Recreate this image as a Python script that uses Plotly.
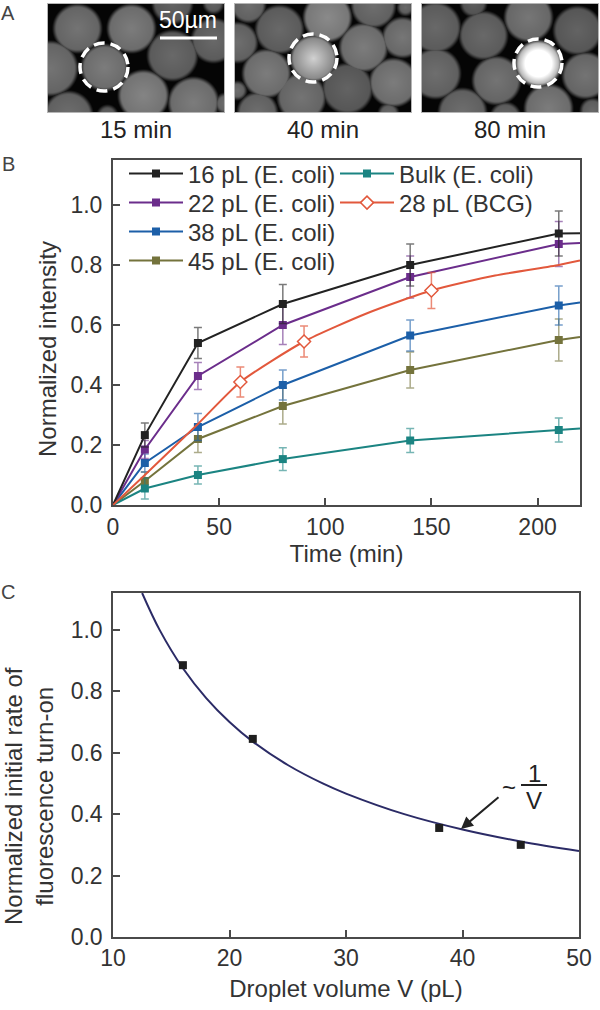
import numpy as np
import plotly.graph_objects as go

W, H = 600, 1010

# ---------- panel B data ----------
times = [0, 15, 40, 80, 140, 210, 220]
sample_times = [15, 40, 80, 140, 210]
names_b = ["16 pL (E. coli)", "22 pL (E. coli)", "38 pL (E. coli)", "45 pL (E. coli)", "Bulk (E. coli)"]
v16 = [0, 0.233, 0.54, 0.67, 0.80, 0.905, 0.906]
v22 = [0, 0.185, 0.43, 0.60, 0.76, 0.87, 0.873]
v38 = [0, 0.14, 0.26, 0.40, 0.565, 0.665, 0.675]
v45 = [0, 0.08, 0.22, 0.33, 0.45, 0.55, 0.56]
vbulk = [0, 0.055, 0.10, 0.153, 0.215, 0.25, 0.255]
e16 = [0.04, 0.052, 0.065, 0.07, 0.075]
e22 = [0.03, 0.045, 0.065, 0.07, 0.075]
e38 = [0.03, 0.045, 0.05, 0.052, 0.065]
e45 = [0.03, 0.045, 0.06, 0.06, 0.07]
ebulk = [0.035, 0.03, 0.038, 0.04, 0.04]
bcg_line_t = [0, 15, 40, 60, 90, 120, 150, 180, 210, 220]
bcg_line_v = [0, 0.10, 0.27, 0.41, 0.545, 0.64, 0.715, 0.765, 0.80, 0.815]
bcg_t = [60, 90, 150]
bcg_v = [0.41, 0.545, 0.715]
bcg_e = [0.05, 0.052, 0.06]
bcg_name = "28 pL (BCG)"
colors_b = ["#222222", "#6b2d8b", "#1c5fa8", "#74733c", "#1b8482"]
bcg_color = "#e2583c"

# ---------- panel C data ----------
vol_pts = [16, 22, 38, 45]
rate_pts = [0.885, 0.645, 0.355, 0.30]
vol_fit = [12.5, 14, 16, 18, 20, 22, 25, 28, 30, 35, 40, 45, 50]
rate_fit = [1.12, 1.0, 0.875, 0.778, 0.70, 0.636, 0.56, 0.50, 0.467, 0.40, 0.35, 0.311, 0.28]

# ---------- panel A data (droplet x, y, radius, brightness; image pixels) ----------
photo_titles = ["15 min", "40 min", "80 min"]
photo_boxes = [(48, 224), (235, 411), (422, 598)]
photo_y = (4, 112)
drops_15 = [(77, 28, 24, .42), (131, 28, 24, .45), (50, 68, 27, .42), (104, 67, 23, .45), (172, 55, 25, .38),
            (213, 40, 22, .38), (143, 95, 25, .48), (193, 102, 25, .45), (68, 115, 24, .40), (225, 103, 10, .40),
            (107, 115, 10, .36), (172, 3, 20, .36), (213, 3, 10, .36)]
drops_40 = [(279, 29, 24, .38), (327, 17, 24, .50), (373, 5, 22, .40), (363, 47, 24, .45), (402, 37, 20, .43),
            (237, 42, 20, .40), (266, 73, 24, .45), (313, 58, 23, .80), (301, 97, 24, .42), (347, 88, 25, .36),
            (393, 82, 24, .45), (257, 112, 20, .40), (237, 90, 9, .40), (248, 5, 17, .40), (388, 113, 10, .38),
            (405, 7, 8, .38)]
drops_80 = [(483, 35, 24, .38), (528, 17, 24, .43), (577, 30, 24, .36), (435, 27, 25, .38), (435, 73, 25, .40),
            (496, 80, 24, .42), (538, 63, 23, 1.2), (585, 75, 23, .42), (462, 112, 24, .40), (548, 108, 24, .45),
            (592, 110, 12, .38), (505, 117, 15, .38), (473, 3, 13, .34)]
photo_drops = [drops_15, drops_40, drops_80]
photo_marked = [(104, 67, 24), (313, 58, 24), (538, 63, 24)]


def px(a, b):
    return [a / W, b / W]


def py(top, bottom):
    return [1 - bottom / H, 1 - top / H]


def rgba(h, a):
    return f"rgba({int(h[1:3],16)},{int(h[3:5],16)},{int(h[5:7],16)},{a})"


FONT = "Liberation Sans"
TXT = "#333333"
FRAME = "#4a4a4a"
TITLE_FONT = dict(family=FONT, size=24, color=TXT)

fig = go.Figure()
axis_common = dict(showgrid=False, zeroline=False, showline=True, linecolor=FRAME, mirror=True,
                   ticks="inside", ticklen=7, tickwidth=1.5, tickcolor=FRAME, automargin=False,
                   tickfont=dict(family=FONT, size=23, color=TXT))

# Panel B
b_series = [(v16, e16), (v22, e22), (v38, e38), (v45, e45), (vbulk, ebulk)]
draw_order = [3, 2, 4, 1, 0]
legend_ids = ["legend", "legend2", "legend3", "legend4", "legend5", "legend6"]
for i in draw_order:
    vals, errs = b_series[i]
    fig.add_trace(go.Scatter(x=times, y=vals, mode="lines", xaxis="x", yaxis="y", showlegend=False,
                             line=dict(color=colors_b[i], width=2), hoverinfo="skip"))
    fig.add_trace(go.Scatter(x=sample_times, y=vals[1:6], mode="markers", name=names_b[i], xaxis="x", yaxis="y",
                             showlegend=False, marker=dict(symbol="square", size=8, color=colors_b[i]),
                             error_y=dict(type="data", array=errs, visible=True, color=rgba(colors_b[i], 0.6),
                                          thickness=1.5, width=4)))
fig.add_trace(go.Scatter(x=bcg_line_t, y=bcg_line_v, mode="lines", xaxis="x", yaxis="y", showlegend=False,
                         line=dict(color=bcg_color, width=2, shape="spline", smoothing=0.6), hoverinfo="skip"))
fig.add_trace(go.Scatter(x=bcg_t, y=bcg_v, name=bcg_name, mode="markers", xaxis="x", yaxis="y", showlegend=False,
                         marker=dict(symbol="diamond", size=10, color="white", line=dict(color=bcg_color, width=1.5)),
                         error_y=dict(type="data", array=bcg_e, visible=True, color=rgba(bcg_color, 0.7),
                                      thickness=1.5, width=4)))
# legend entries
for i, (name, color, sym) in enumerate(list(zip(names_b, colors_b, ["square"] * 5))
                                       + [(bcg_name, bcg_color, "diamond")]):
    mk = dict(symbol=sym, size=8, color=color)
    if sym == "diamond":
        mk = dict(symbol=sym, size=10, color="white", line=dict(color=color, width=1.5))
    fig.add_trace(go.Scatter(x=[None], y=[None], name=name, mode="lines+markers", xaxis="x", yaxis="y",
                             line=dict(color=color, width=2), marker=mk, legend=legend_ids[i]))

# Panel C
fig.add_trace(go.Scatter(x=vol_fit, y=rate_fit, mode="lines", xaxis="x2", yaxis="y2", showlegend=False,
                         line=dict(color="#2b2b66", width=2, shape="spline")))
fig.add_trace(go.Scatter(x=vol_pts, y=rate_pts, mode="markers", xaxis="x2", yaxis="y2", showlegend=False,
                         marker=dict(symbol="square", size=8, color="#1e1e1e")))

# Panel A photos: rendered through heatmaps on their own axes
layout_extra = {}
shapes = []
annotations = []
for k, ((x0, x1), drops, mark, title) in enumerate(zip(photo_boxes, photo_drops, photo_marked, photo_titles)):
    xs = np.arange(x0, x1 + 1)
    ys = np.arange(photo_y[0], photo_y[1] + 1)
    gx, gy = np.meshgrid(xs, ys)
    field = np.full(gx.shape, 0.02)
    for cx, cy, r, b in drops:
        d = np.hypot(gx - cx, gy - cy)
        edge = np.clip((r + 2.5 - d) / 6, 0, 1)
        edge = edge * edge * (3 - 2 * edge)
        inner = np.clip(1 - d / r, 0, 1)
        if b > 1:
            val = edge * (0.60 + 0.95 * inner)
        elif b > 0.7:
            val = edge * (0.50 + 0.32 * inner)
        else:
            val = edge * b * (0.92 + 0.16 * inner)
        field = np.maximum(field, np.minimum(val, 1))
    n = k + 3
    fig.add_trace(go.Heatmap(x=xs, y=ys, z=field, zmin=0, zmax=1, showscale=False, zsmooth="best",
                             colorscale=[[0, "#000000"], [1, "#ffffff"]], xaxis=f"x{n}", yaxis=f"y{n}",
                             hoverinfo="skip"))
    layout_extra[f"xaxis{n}"] = dict(domain=px(x0, x1), range=[x0, x1], visible=True, showticklabels=False,
                                     ticks="", showgrid=False, zeroline=False, showline=True, mirror=True,
                                     linecolor="#b5b5b5", linewidth=1, anchor=f"y{n}")
    layout_extra[f"yaxis{n}"] = dict(domain=py(*photo_y), range=[photo_y[1], photo_y[0]], visible=True,
                                     showticklabels=False, ticks="", showgrid=False, zeroline=False, showline=True,
                                     mirror=True, linecolor="#b5b5b5", linewidth=1, anchor=f"x{n}")
    cx, cy, r = mark
    shapes.append(dict(type="circle", xref=f"x{n}", yref=f"y{n}", x0=cx - r, x1=cx + r, y0=cy - r, y1=cy + r,
                       line=dict(color="white", width=3.5, dash="11px,6px")))
    annotations.append(dict(text=title, xref="paper", yref="paper", x=(x0 + x1) / 2 / W, y=1 - 129 / H,
                            showarrow=False, font=dict(family=FONT, size=24, color="#222222"),
                            xanchor="center", yanchor="middle"))

# scale bar
shapes.append(dict(type="line", xref="x3", yref="y3", x0=160, x1=217, y0=38, y1=38, line=dict(color="white", width=3)))
annotations.append(dict(text="50µm", xref="x3", yref="y3", x=188, y=20, showarrow=False,
                        xanchor="center", yanchor="middle", font=dict(family=FONT, size=23, color="white")))

# panel letters
for letter, yy in [("A", 13), ("B", 164), ("C", 592)]:
    annotations.append(dict(text=letter, xref="paper", yref="paper", x=8 / W, y=1 - yy / H, showarrow=False,
                            font=dict(family=FONT, size=20, color="#444444"), xanchor="center", yanchor="middle"))

# y titles
annotations.append(dict(text="Normalized intensity", xref="paper", yref="paper", x=47 / W, y=1 - 349 / H,
                        textangle=-90, showarrow=False, font=TITLE_FONT, xanchor="center", yanchor="middle"))
annotations.append(dict(text="Normalized initial rate of<br>fluorescence turn-on", xref="paper", yref="paper",
                        x=29 / W, y=1 - 796 / H, textangle=-90, showarrow=False, font=TITLE_FONT,
                        xanchor="center", yanchor="middle"))

# 1/V label
annotations.append(dict(x=39.87, y=0.352, xref="x2", yref="y2", ax=39, ay=-33, text="", showarrow=True,
                        arrowhead=2, arrowsize=1.2, arrowwidth=2, arrowcolor="#222222"))
for txt, xp, yp, sz in [("~", 509, 787, 24), ("1", 534, 773, 24), ("V", 534, 800, 24)]:
    annotations.append(dict(text=txt, xref="paper", yref="paper", x=xp / W, y=1 - yp / H, showarrow=False,
                            xanchor="center", yanchor="middle", font=dict(family=FONT, size=sz, color="#222222")))
shapes.append(dict(type="line", xref="paper", yref="paper", x0=521 / W, x1=547 / W, y0=1 - 785 / H, y1=1 - 785 / H,
                   line=dict(color="#222222", width=2)))

legend_common = dict(bgcolor="rgba(0,0,0,0)", borderwidth=0, font=dict(family=FONT, size=24, color=TXT),
                     itemwidth=54, xanchor="left", yanchor="middle", itemclick=False, itemdoubleclick=False)
legend_pos = [(124, 174), (124, 203), (124, 232), (124, 261), (335, 174), (335, 203)]
legends = {lid: dict(x=lx / W, y=1 - ly / H, **legend_common) for lid, (lx, ly) in zip(legend_ids, legend_pos)}

fig.update_layout(
    width=W, height=H, margin=dict(l=0, r=0, t=0, b=0), paper_bgcolor="white", plot_bgcolor="white",
    showlegend=True,
    xaxis=dict(domain=px(113, 580), range=[0, 220], tickvals=[0, 50, 100, 150, 200], anchor="y", linewidth=2,
               title=dict(text="Time (min)", font=TITLE_FONT, standoff=6), **axis_common),
    yaxis=dict(domain=py(160, 505), range=[0, 1.15], tickvals=[0, .2, .4, .6, .8, 1], tickformat=".1f", anchor="x",
               linewidth=2, ticklabelstandoff=4, **axis_common),
    xaxis2=dict(domain=px(113, 579), range=[10, 50], tickvals=[10, 20, 30, 40, 50], anchor="y2", linewidth=1.5,
                title=dict(text="Droplet volume V (pL)", font=TITLE_FONT, standoff=10), **axis_common),
    yaxis2=dict(domain=py(593, 937), range=[0, 1.12], tickvals=[0, .2, .4, .6, .8, 1], tickformat=".1f", anchor="x2",
                linewidth=1.5, ticklabelstandoff=4, **axis_common),
    shapes=shapes, annotations=annotations, **legends, **layout_extra,
)
fig.write_html("out.html", config=dict(displayModeBar=False),
               post_script="document.body.style.margin='0';document.documentElement.style.overflow='hidden';")
